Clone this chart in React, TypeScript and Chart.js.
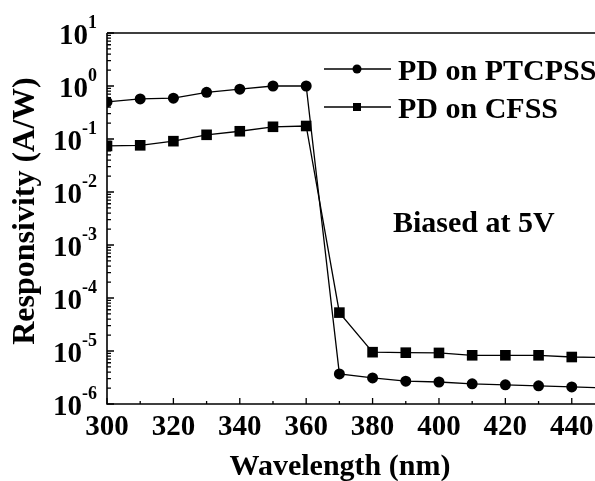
import React, { useEffect, useRef } from "react";
import { Chart, registerables } from "chart.js";

Chart.register(...registerables);

const wavelengths = [300, 310, 320, 330, 340, 350, 360, 370, 380, 390, 400, 410, 420, 430, 440, 450];
const ptcpss = [0.5, 0.57, 0.59, 0.76, 0.87, 1.0, 1.0, 3.7e-6, 3.1e-6, 2.7e-6, 2.6e-6, 2.4e-6, 2.3e-6, 2.2e-6, 2.1e-6, 2.0e-6];
const cfss = [0.074, 0.076, 0.091, 0.12, 0.14, 0.17, 0.176, 5.3e-5, 9.5e-6, 9.3e-6, 9.2e-6, 8.3e-6, 8.3e-6, 8.3e-6, 7.7e-6, 7.5e-6];
const seriesNames = ["PD on PTCPSS", "PD on CFSS"];
const seriesMarkers = ["circle", "rect"];
const xTickLabels = [300, 320, 340, 360, 380, 400, 420, 440];
const xMinorTicks = [310, 330, 350, 370, 390, 410, 430];
const yTickExponents = [1, 0, -1, -2, -3, -4, -5, -6];
const xTitle = "Wavelength (nm)";
const yTitle = "Responsivity (A/W)";
const annotation = "Biased at 5V";

const FONT = "'Liberation Serif', 'Times New Roman', serif";

const decorPlugin = {
  id: "decor",
  afterDraw(chart: any) {
    const { ctx, chartArea: a } = chart;
    const xs = chart.scales.x;
    const ys = chart.scales.y;
    ctx.save();
    ctx.strokeStyle = "#000";
    ctx.fillStyle = "#000";
    ctx.lineWidth = 1.6;
    // frame
    ctx.beginPath();
    ctx.moveTo(a.left, a.top);
    ctx.lineTo(a.right, a.top);
    ctx.moveTo(a.left, a.top);
    ctx.lineTo(a.left, a.bottom);
    ctx.lineTo(a.right, a.bottom);
    ctx.stroke();

    // x ticks
    ctx.lineWidth = 1.3;
    ctx.beginPath();
    xTickLabels.forEach((v) => {
      const px = xs.getPixelForValue(v);
      ctx.moveTo(px, a.bottom);
      ctx.lineTo(px, a.bottom - 6);
    });
    xMinorTicks.forEach((v) => {
      const px = xs.getPixelForValue(v);
      ctx.moveTo(px, a.bottom);
      ctx.lineTo(px, a.bottom - 3);
    });
    // y ticks
    yTickExponents.forEach((e) => {
      const py = ys.getPixelForValue(Math.pow(10, e));
      ctx.moveTo(a.left, py);
      ctx.lineTo(a.left + 7, py);
      if (e > -6) {
        for (let m = 2; m <= 9; m++) {
          const pm = ys.getPixelForValue(m * Math.pow(10, e - 1));
          ctx.moveTo(a.left, pm);
          ctx.lineTo(a.left + 4, pm);
        }
      }
    });
    ctx.stroke();

    // x tick labels
    ctx.font = `bold 29px ${FONT}`;
    ctx.textAlign = "center";
    ctx.textBaseline = "alphabetic";
    xTickLabels.forEach((v) => {
      ctx.fillText(String(v), xs.getPixelForValue(v), 435);
    });

    // y tick labels with superscripts
    yTickExponents.forEach((e) => {
      const py = ys.getPixelForValue(Math.pow(10, e));
      ctx.font = `bold 29px ${FONT}`;
      const wBase = ctx.measureText("10").width;
      ctx.font = `bold 18px ${FONT}`;
      const expStr = String(e);
      const wExp = ctx.measureText(expStr).width;
      const right = 97;
      const startX = right - wBase - wExp;
      ctx.textAlign = "left";
      ctx.font = `bold 29px ${FONT}`;
      ctx.fillText("10", startX, py + 11);
      ctx.font = `bold 18px ${FONT}`;
      ctx.fillText(expStr, startX + wBase, py - 5);
    });

    // axis titles
    ctx.font = `bold 30px ${FONT}`;
    ctx.textAlign = "center";
    ctx.fillText(xTitle, 340, 475);
    ctx.save();
    ctx.translate(34, 211);
    ctx.rotate(-Math.PI / 2);
    ctx.font = `bold 32px ${FONT}`;
    ctx.fillText(yTitle, 0, 0);
    ctx.restore();

    // legend
    const legendY = [69, 107];
    seriesNames.forEach((name, i) => {
      const ly = legendY[i];
      ctx.lineWidth = 1.3;
      ctx.beginPath();
      ctx.moveTo(324, ly);
      ctx.lineTo(391, ly);
      ctx.stroke();
      ctx.beginPath();
      if (seriesMarkers[i] === "circle") {
        ctx.arc(357, ly, 4.5, 0, Math.PI * 2);
        ctx.fill();
      } else {
        ctx.fillRect(357 - 4, ly - 4, 8, 8);
      }
      ctx.font = `bold 30px ${FONT}`;
      ctx.textAlign = "left";
      ctx.fillText(name, 398, ly + 11);
    });

    // annotation
    ctx.font = `bold 30px ${FONT}`;
    ctx.textAlign = "left";
    ctx.fillText(annotation, 393, 232);
    ctx.restore();
  },
};

export default function App() {
  const canvasRef = useRef<HTMLCanvasElement>(null);

  useEffect(() => {
    if (!canvasRef.current) return;
    const chart = new Chart(canvasRef.current, {
      type: "line",
      data: {
        datasets: [
          {
            label: seriesNames[0],
            data: wavelengths.map((w, i) => ({ x: w, y: ptcpss[i] })),
            borderColor: "#000",
            backgroundColor: "#000",
            borderWidth: 1.3,
            pointStyle: "circle",
            pointRadius: 5.5,
            pointBorderWidth: 0,
            tension: 0,
          },
          {
            label: seriesNames[1],
            data: wavelengths.map((w, i) => ({ x: w, y: cfss[i] })),
            borderColor: "#000",
            backgroundColor: "#000",
            borderWidth: 1.3,
            pointStyle: "rect",
            pointRadius: 7.5,
            pointBorderWidth: 0,
            tension: 0,
          },
        ],
      },
      options: {
        animation: false,
        responsive: false,
        maintainAspectRatio: false,
        devicePixelRatio: 1,
        layout: { autoPadding: false, padding: { top: 33, right: 0, left: 0, bottom: 0 } },
        plugins: { legend: { display: false }, title: { display: false }, tooltip: { enabled: false } },
        scales: {
          x: {
            type: "linear",
            min: 300,
            max: 447,
            grid: { display: false, drawTicks: false },
            border: { display: false },
            ticks: { display: false },
            afterFit: (s: any) => {
              s.height = 77;
            },
          },
          y: {
            type: "logarithmic",
            min: 1e-6,
            max: 10,
            grid: { display: false, drawTicks: false },
            border: { display: false },
            ticks: { display: false },
            afterFit: (s: any) => {
              s.width = 107;
            },
          },
        },
      },
      plugins: [decorPlugin],
    });
    return () => chart.destroy();
  }, []);

  return (
    <div style={{ position: "fixed", left: 0, top: 0, width: 595, height: 481, background: "#fff", overflow: "hidden" }}>
      <canvas ref={canvasRef} width={595} height={481} style={{ display: "block", width: 595, height: 481 }} />
    </div>
  );
}
